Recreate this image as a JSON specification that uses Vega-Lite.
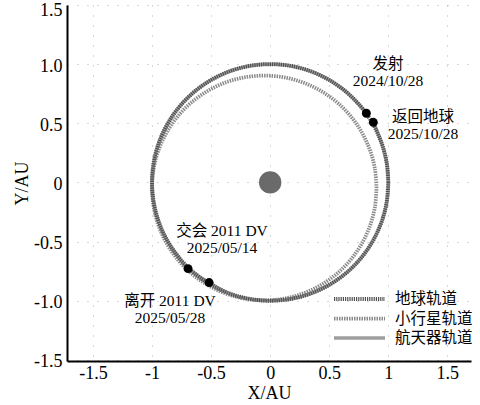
{
  "$schema": "https://vega.github.io/schema/vega-lite/v6.json",
  "width": 404,
  "height": 356,
  "autosize": {"type": "none"},
  "padding": {"left": 67, "top": 5, "right": 9, "bottom": 44},
  "background": "white",
  "config": {
    "view": {"stroke": null},
    "axis": {
      "labelFont": "Liberation Serif",
      "labelFontSize": 18,
      "labelColor": "black",
      "titleFont": "Liberation Serif",
      "titleFontSize": 18,
      "titleFontWeight": "normal",
      "titleColor": "black",
      "domainColor": "black",
      "domainWidth": 2,
      "ticks": false,
      "gridColor": "#b0b0b0",
      "gridDash": [1, 9],
      "gridWidth": 1
    }
  },
  "datasets": {
    "orbits": [
      {"orbit": "航天器轨道", "i": 0, "x": 0.814, "y": 0.585},
      {"orbit": "航天器轨道", "i": 1, "x": 0.766, "y": 0.643},
      {"orbit": "航天器轨道", "i": 2, "x": 0.643, "y": 0.766},
      {"orbit": "航天器轨道", "i": 3, "x": 0.5, "y": 0.866},
      {"orbit": "航天器轨道", "i": 4, "x": 0.342, "y": 0.94},
      {"orbit": "航天器轨道", "i": 5, "x": 0.174, "y": 0.985},
      {"orbit": "航天器轨道", "i": 6, "x": 0, "y": 1},
      {"orbit": "航天器轨道", "i": 7, "x": -0.174, "y": 0.985},
      {"orbit": "航天器轨道", "i": 8, "x": -0.342, "y": 0.94},
      {"orbit": "航天器轨道", "i": 9, "x": -0.5, "y": 0.866},
      {"orbit": "航天器轨道", "i": 10, "x": -0.643, "y": 0.766},
      {"orbit": "航天器轨道", "i": 11, "x": -0.766, "y": 0.643},
      {"orbit": "航天器轨道", "i": 12, "x": -0.866, "y": 0.5},
      {"orbit": "航天器轨道", "i": 13, "x": -0.94, "y": 0.342},
      {"orbit": "航天器轨道", "i": 14, "x": -0.985, "y": 0.174},
      {"orbit": "航天器轨道", "i": 15, "x": -1, "y": 0},
      {"orbit": "航天器轨道", "i": 16, "x": -0.985, "y": -0.174},
      {"orbit": "航天器轨道", "i": 17, "x": -0.94, "y": -0.342},
      {"orbit": "航天器轨道", "i": 18, "x": -0.866, "y": -0.5},
      {"orbit": "航天器轨道", "i": 19, "x": -0.766, "y": -0.643},
      {"orbit": "航天器轨道", "i": 20, "x": -0.695, "y": -0.729},
      {"orbit": "航天器轨道", "i": 21, "x": -0.517, "y": -0.847},
      {"orbit": "航天器轨道", "i": 22, "x": -0.342, "y": -0.94},
      {"orbit": "航天器轨道", "i": 23, "x": -0.174, "y": -0.985},
      {"orbit": "航天器轨道", "i": 24, "x": 0, "y": -1},
      {"orbit": "航天器轨道", "i": 25, "x": 0.174, "y": -0.985},
      {"orbit": "航天器轨道", "i": 26, "x": 0.342, "y": -0.94},
      {"orbit": "航天器轨道", "i": 27, "x": 0.5, "y": -0.866},
      {"orbit": "航天器轨道", "i": 28, "x": 0.643, "y": -0.766},
      {"orbit": "航天器轨道", "i": 29, "x": 0.766, "y": -0.643},
      {"orbit": "航天器轨道", "i": 30, "x": 0.866, "y": -0.5},
      {"orbit": "航天器轨道", "i": 31, "x": 0.94, "y": -0.342},
      {"orbit": "航天器轨道", "i": 32, "x": 0.985, "y": -0.174},
      {"orbit": "航天器轨道", "i": 33, "x": 1, "y": 0},
      {"orbit": "航天器轨道", "i": 34, "x": 0.985, "y": 0.174},
      {"orbit": "航天器轨道", "i": 35, "x": 0.94, "y": 0.342},
      {"orbit": "航天器轨道", "i": 36, "x": 0.873, "y": 0.508},

      {"orbit": "小行星轨道", "i": 0, "x": 0.9, "y": -0.047},
      {"orbit": "小行星轨道", "i": 1, "x": 0.886, "y": 0.118},
      {"orbit": "小行星轨道", "i": 2, "x": 0.843, "y": 0.278},
      {"orbit": "小行星轨道", "i": 3, "x": 0.773, "y": 0.428},
      {"orbit": "小行星轨道", "i": 4, "x": 0.678, "y": 0.564},
      {"orbit": "小行星轨道", "i": 5, "x": 0.561, "y": 0.681},
      {"orbit": "小行星轨道", "i": 6, "x": 0.425, "y": 0.776},
      {"orbit": "小行星轨道", "i": 7, "x": 0.275, "y": 0.846},
      {"orbit": "小行星轨道", "i": 8, "x": 0.115, "y": 0.889},
      {"orbit": "小行星轨道", "i": 9, "x": -0.05, "y": 0.903},
      {"orbit": "小行星轨道", "i": 10, "x": -0.215, "y": 0.889},
      {"orbit": "小行星轨道", "i": 11, "x": -0.375, "y": 0.846},
      {"orbit": "小行星轨道", "i": 12, "x": -0.525, "y": 0.776},
      {"orbit": "小行星轨道", "i": 13, "x": -0.661, "y": 0.681},
      {"orbit": "小行星轨道", "i": 14, "x": -0.778, "y": 0.564},
      {"orbit": "小行星轨道", "i": 15, "x": -0.873, "y": 0.428},
      {"orbit": "小行星轨道", "i": 16, "x": -0.943, "y": 0.278},
      {"orbit": "小行星轨道", "i": 17, "x": -0.986, "y": 0.118},
      {"orbit": "小行星轨道", "i": 18, "x": -1.0, "y": -0.047},
      {"orbit": "小行星轨道", "i": 19, "x": -0.986, "y": -0.212},
      {"orbit": "小行星轨道", "i": 20, "x": -0.943, "y": -0.372},
      {"orbit": "小行星轨道", "i": 21, "x": -0.873, "y": -0.522},
      {"orbit": "小行星轨道", "i": 22, "x": -0.778, "y": -0.658},
      {"orbit": "小行星轨道", "i": 23, "x": -0.661, "y": -0.775},
      {"orbit": "小行星轨道", "i": 24, "x": -0.525, "y": -0.87},
      {"orbit": "小行星轨道", "i": 25, "x": -0.375, "y": -0.94},
      {"orbit": "小行星轨道", "i": 26, "x": -0.215, "y": -0.983},
      {"orbit": "小行星轨道", "i": 27, "x": -0.05, "y": -0.997},
      {"orbit": "小行星轨道", "i": 28, "x": 0.115, "y": -0.983},
      {"orbit": "小行星轨道", "i": 29, "x": 0.275, "y": -0.94},
      {"orbit": "小行星轨道", "i": 30, "x": 0.425, "y": -0.87},
      {"orbit": "小行星轨道", "i": 31, "x": 0.561, "y": -0.775},
      {"orbit": "小行星轨道", "i": 32, "x": 0.678, "y": -0.658},
      {"orbit": "小行星轨道", "i": 33, "x": 0.773, "y": -0.522},
      {"orbit": "小行星轨道", "i": 34, "x": 0.843, "y": -0.372},
      {"orbit": "小行星轨道", "i": 35, "x": 0.886, "y": -0.212},
      {"orbit": "小行星轨道", "i": 36, "x": 0.9, "y": -0.047},

      {"orbit": "地球轨道", "i": 0, "x": 1, "y": 0},
      {"orbit": "地球轨道", "i": 1, "x": 0.985, "y": 0.174},
      {"orbit": "地球轨道", "i": 2, "x": 0.94, "y": 0.342},
      {"orbit": "地球轨道", "i": 3, "x": 0.866, "y": 0.5},
      {"orbit": "地球轨道", "i": 4, "x": 0.766, "y": 0.643},
      {"orbit": "地球轨道", "i": 5, "x": 0.643, "y": 0.766},
      {"orbit": "地球轨道", "i": 6, "x": 0.5, "y": 0.866},
      {"orbit": "地球轨道", "i": 7, "x": 0.342, "y": 0.94},
      {"orbit": "地球轨道", "i": 8, "x": 0.174, "y": 0.985},
      {"orbit": "地球轨道", "i": 9, "x": 0, "y": 1},
      {"orbit": "地球轨道", "i": 10, "x": -0.174, "y": 0.985},
      {"orbit": "地球轨道", "i": 11, "x": -0.342, "y": 0.94},
      {"orbit": "地球轨道", "i": 12, "x": -0.5, "y": 0.866},
      {"orbit": "地球轨道", "i": 13, "x": -0.643, "y": 0.766},
      {"orbit": "地球轨道", "i": 14, "x": -0.766, "y": 0.643},
      {"orbit": "地球轨道", "i": 15, "x": -0.866, "y": 0.5},
      {"orbit": "地球轨道", "i": 16, "x": -0.94, "y": 0.342},
      {"orbit": "地球轨道", "i": 17, "x": -0.985, "y": 0.174},
      {"orbit": "地球轨道", "i": 18, "x": -1, "y": 0},
      {"orbit": "地球轨道", "i": 19, "x": -0.985, "y": -0.174},
      {"orbit": "地球轨道", "i": 20, "x": -0.94, "y": -0.342},
      {"orbit": "地球轨道", "i": 21, "x": -0.866, "y": -0.5},
      {"orbit": "地球轨道", "i": 22, "x": -0.766, "y": -0.643},
      {"orbit": "地球轨道", "i": 23, "x": -0.643, "y": -0.766},
      {"orbit": "地球轨道", "i": 24, "x": -0.5, "y": -0.866},
      {"orbit": "地球轨道", "i": 25, "x": -0.342, "y": -0.94},
      {"orbit": "地球轨道", "i": 26, "x": -0.174, "y": -0.985},
      {"orbit": "地球轨道", "i": 27, "x": 0, "y": -1},
      {"orbit": "地球轨道", "i": 28, "x": 0.174, "y": -0.985},
      {"orbit": "地球轨道", "i": 29, "x": 0.342, "y": -0.94},
      {"orbit": "地球轨道", "i": 30, "x": 0.5, "y": -0.866},
      {"orbit": "地球轨道", "i": 31, "x": 0.643, "y": -0.766},
      {"orbit": "地球轨道", "i": 32, "x": 0.766, "y": -0.643},
      {"orbit": "地球轨道", "i": 33, "x": 0.866, "y": -0.5},
      {"orbit": "地球轨道", "i": 34, "x": 0.94, "y": -0.342},
      {"orbit": "地球轨道", "i": 35, "x": 0.985, "y": -0.174},
      {"orbit": "地球轨道", "i": 36, "x": 1, "y": 0}
    ],
    "events": [
      {"event": "发射", "x": 0.814, "y": 0.585},
      {"event": "返回地球", "x": 0.873, "y": 0.508},
      {"event": "交会", "x": -0.695, "y": -0.729},
      {"event": "离开", "x": -0.517, "y": -0.847}
    ],
    "sun": [{"x": 0, "y": 0}],
    "annots": [
      {"text": "发射\n2024/10/28", "x": 0.997, "y": 1.001},
      {"text": "返回地球\n2025/10/28", "x": 1.294, "y": 0.549},
      {"text": "交会 2011 DV\n2025/05/14", "x": -0.408, "y": -0.411},
      {"text": "离开 2011 DV\n2025/05/28", "x": -0.848, "y": -1.003}
    ]
  },
  "encoding": {
    "x": {
      "field": "x", "type": "quantitative",
      "scale": {"domain": [-1.72, 1.7], "nice": false, "zero": false},
      "axis": {
        "title": "X/AU",
        "values": [-1.5, -1, -0.5, 0, 0.5, 1, 1.5],
        "labelExpr": "'' + datum.value",
        "labelPadding": 3,
        "titlePadding": 2,
        "grid": true
      }
    },
    "y": {
      "field": "y", "type": "quantitative",
      "scale": {"domain": [-1.51, 1.5], "nice": false, "zero": false},
      "axis": {
        "title": "Y/AU",
        "values": [-1.5, -1, -0.5, 0, 0.5, 1, 1.5],
        "labelExpr": "datum.value == 0 ? '0' : (datum.value < 0 ? '-' : '') + format(abs(datum.value), '.1f')",
        "labelOffset": {"condition": {"test": "datum.value == 1.5", "value": 5}, "value": 2},
        "labelPadding": 5,
        "titlePadding": 2,
        "grid": true
      }
    }
  },
  "layer": [
    {
      "data": {"name": "orbits"},
      "mark": {"type": "line", "interpolate": "cardinal"},
      "encoding": {
        "order": {"field": "i", "type": "quantitative"},
        "color": {
          "field": "orbit", "type": "nominal",
          "scale": {"domain": ["地球轨道", "小行星轨道", "航天器轨道"], "range": ["#505050", "#8a8a8a", "#9e9e9e"]},
          "legend": {
            "title": null,
            "orient": "none",
            "legendX": 282,
            "legendY": 283.5,
            "padding": 0,
            "symbolType": "M-3,0H3",
            "symbolSize": 289,
            "labelFont": "Noto Sans CJK SC",
            "labelFontSize": 15.5,
            "labelColor": "black",
            "labelOffset": 25,
            "rowPadding": 0.5
          }
        },
        "strokeDash": {
          "field": "orbit", "type": "nominal",
          "scale": {"domain": ["地球轨道", "小行星轨道", "航天器轨道"], "range": [[1.2, 1], [1.5, 1], [1, 0]]},
          "legend": null
        },
        "strokeWidth": {
          "field": "orbit", "type": "nominal",
          "scale": {"domain": ["地球轨道", "小行星轨道", "航天器轨道"], "range": [4, 3.5, 6.5]},
          "legend": null
        }
      }
    },
    {
      "data": {"name": "sun"},
      "mark": {"type": "point", "filled": true, "size": 500, "color": "#6a6a6a", "opacity": 1},
      "encoding": {}
    },
    {
      "data": {"name": "events"},
      "mark": {"type": "point", "filled": true, "size": 80, "color": "black", "opacity": 1},
      "encoding": {}
    },
    {
      "data": {"name": "annots"},
      "mark": {"type": "text", "font": "Liberation Serif, Noto Sans CJK SC", "fontSize": 15.5, "lineBreak": "\n", "lineHeight": 17, "color": "black", "align": "center", "baseline": "middle"},
      "encoding": {"text": {"field": "text"}}
    }
  ]
}
